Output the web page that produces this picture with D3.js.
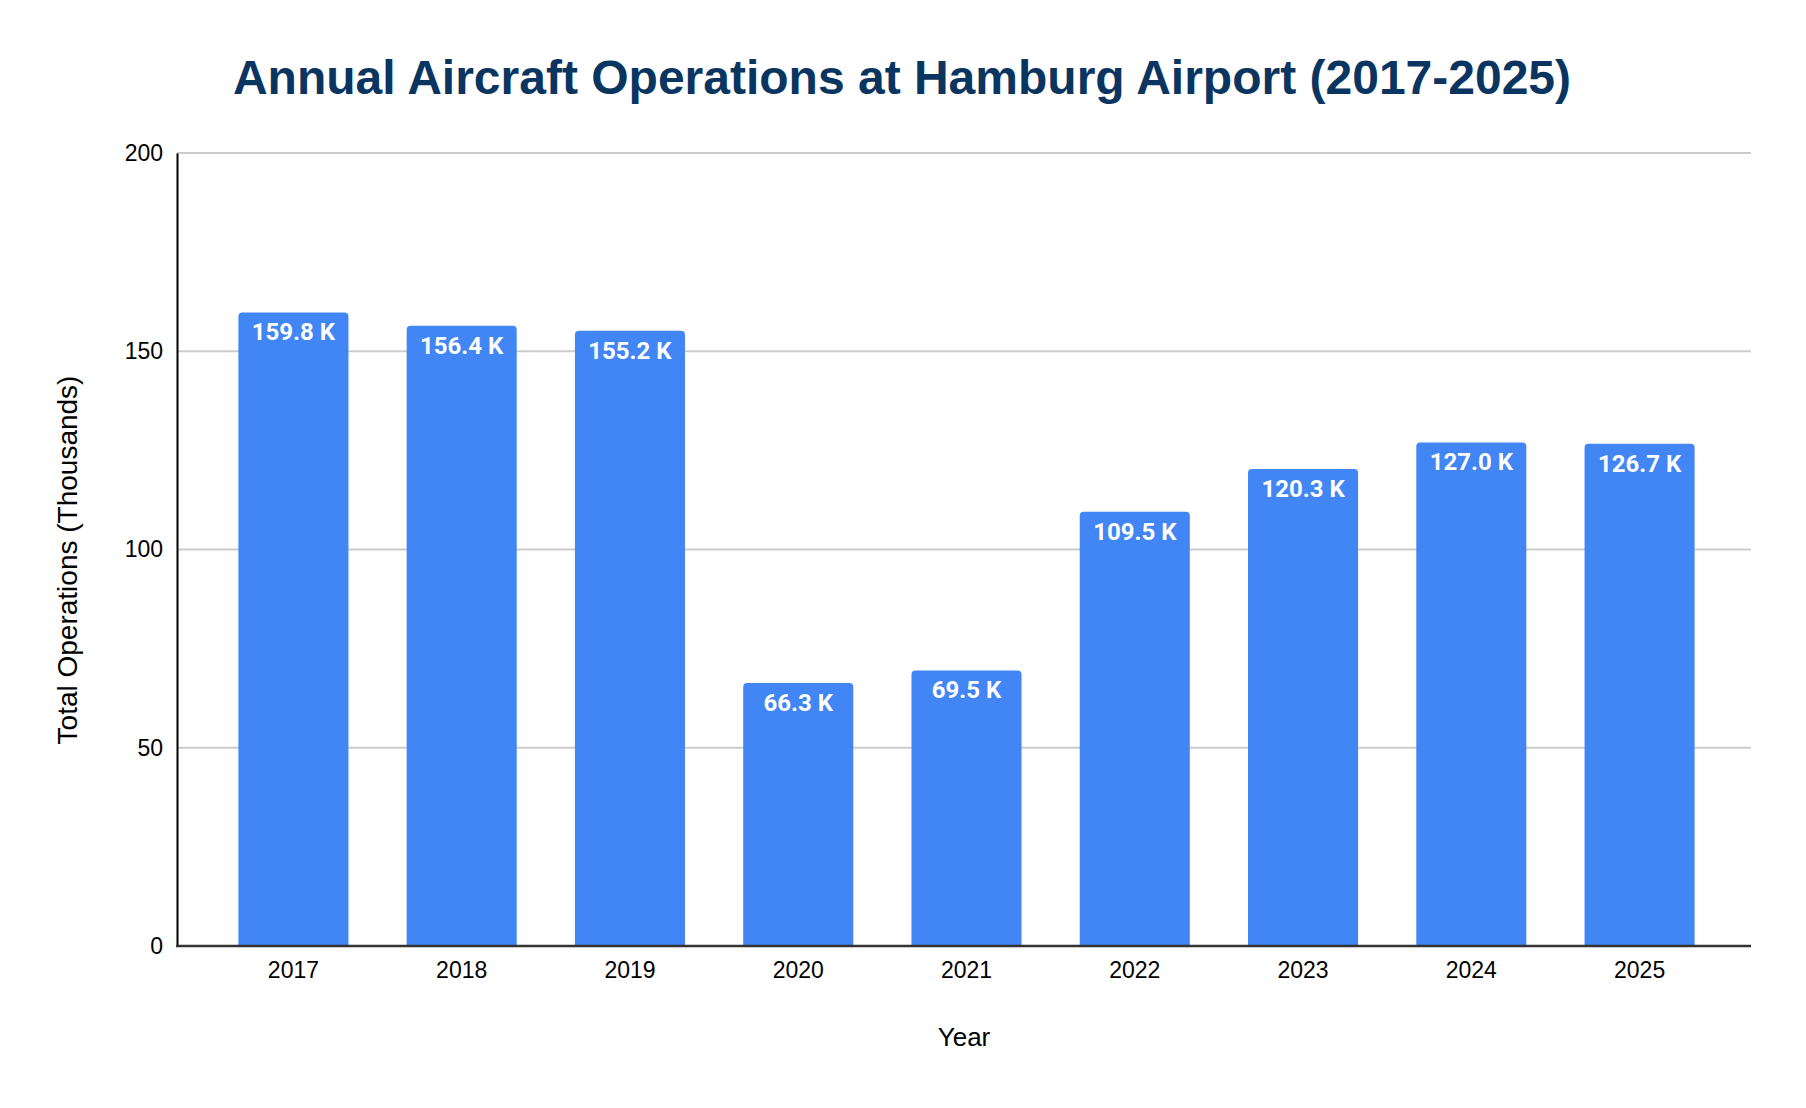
<!DOCTYPE html>
<html>
<head>
<meta charset="utf-8">
<script src="https://cdn.jsdelivr.net/npm/d3@7"></script>
<style>
  html, body { margin: 0; padding: 0; background: #fff; }
  svg { display: block; }
</style>
</head>
<body>
<div id="chart"></div>
<script>
const years = ['2017', '2018', '2019', '2020', '2021', '2022', '2023', '2024', '2025'];
const operations = [159.8, 156.4, 155.2, 66.3, 69.5, 109.5, 120.3, 127.0, 126.7];
const yTicks = [0, 50, 100, 150, 200];

const W = 1806, H = 1108;
const margin = { top: 153, right: 55, bottom: 162, left: 177 };
const width = W - margin.left - margin.right;
const height = H - margin.top - margin.bottom;

const svg = d3.select('#chart')
  .append('svg')
  .attr('width', W)
  .attr('height', H);

const g = svg.append('g')
  .attr('transform', `translate(${margin.left},${margin.top})`);

// bands sit a couple of px right of the axis, as in the original
const x = d3.scaleBand()
  .domain(years)
  .range([2.5, width + 2.5])
  .paddingInner(0.346)
  .paddingOuter(0.35);

const y = d3.scaleLinear().domain([0, 200]).range([height, 0]);

// gridlines
g.append('g')
  .selectAll('line')
  .data(yTicks.filter(d => d > 0))
  .enter()
  .append('line')
  .attr('x1', 0)
  .attr('x2', width)
  .attr('y1', d => y(d))
  .attr('y2', d => y(d))
  .attr('stroke', '#cccccc')
  .attr('stroke-width', 2);

// bars with rounded top corners
const r = 4;
const barPath = d => {
  const x0 = x(d.year), x1 = x0 + x.bandwidth();
  const y0 = y(d.value), y1 = y(0);
  return `M${x0},${y1}V${y0 + r}Q${x0},${y0} ${x0 + r},${y0}H${x1 - r}Q${x1},${y0} ${x1},${y0 + r}V${y1}Z`;
};

const data = years.map((year, i) => ({ year, value: operations[i] }));

g.append('g')
  .selectAll('path')
  .data(data)
  .enter()
  .append('path')
  .attr('d', barPath)
  .attr('fill', '#4285f4');

g.append('g')
  .selectAll('text')
  .data(data)
  .enter()
  .append('text')
  .attr('x', d => x(d.year) + x.bandwidth() / 2)
  .attr('y', d => y(d.value) + 28)
  .attr('text-anchor', 'middle')
  .attr('fill', '#ffffff')
  .style('font-family', 'Roboto, sans-serif')
  .style('font-weight', 700)
  .style('font-size', '24px')
  .text(d => d.value.toFixed(1) + ' K');

// y axis
const yAxis = g.append('g')
  .call(d3.axisLeft(y).tickValues(yTicks).tickSize(0).tickPadding(14));
yAxis.select('.domain').attr('stroke', '#000').attr('stroke-width', 2);
yAxis.selectAll('text')
  .attr('fill', '#000')
  .style('font-family', '"Liberation Sans", Arial, sans-serif')
  .style('font-size', '23px');

// x axis (baseline spans the full plot width, not the shifted band range)
const xAxis = g.append('g')
  .attr('transform', `translate(0,${height})`)
  .call(d3.axisBottom(x).tickSize(0).tickPadding(16));
xAxis.select('.domain')
  .attr('d', `M-1,0H${width}`)
  .attr('stroke', '#333')
  .attr('stroke-width', 2.5);
xAxis.selectAll('text')
  .attr('fill', '#000')
  .attr('dy', '0.71em')
  .style('font-family', '"Liberation Sans", Arial, sans-serif')
  .style('font-size', '23px');

// title
svg.append('text')
  .attr('x', 902)
  .attr('y', 94)
  .attr('text-anchor', 'middle')
  .attr('fill', '#0b3561')
  .style('font-family', '"Liberation Sans", Arial, sans-serif')
  .style('font-weight', 700)
  .style('font-size', '48px')
  .text('Annual Aircraft Operations at Hamburg Airport (2017-2025)');

// axis titles
svg.append('text')
  .attr('x', margin.left + width / 2)
  .attr('y', 1046)
  .attr('text-anchor', 'middle')
  .attr('fill', '#000')
  .style('font-family', '"Liberation Sans", Arial, sans-serif')
  .style('font-size', '26px')
  .text('Year');

svg.append('text')
  .attr('transform', 'translate(77,560) rotate(-90)')
  .attr('text-anchor', 'middle')
  .attr('fill', '#000')
  .style('font-family', '"Liberation Sans", Arial, sans-serif')
  .style('font-size', '28px')
  .text('Total Operations (Thousands)');
</script>
</body>
</html>
